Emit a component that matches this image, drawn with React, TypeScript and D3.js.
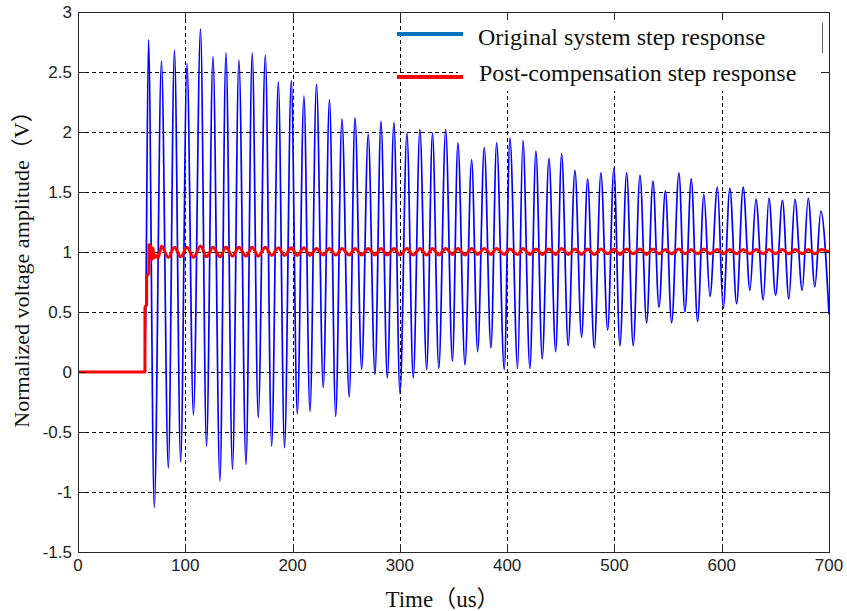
import React from "react";
import * as d3 from "d3";

const xTicks = [0, 100, 200, 300, 400, 500, 600, 700];
const yTicks = [-1.5, -1, -0.5, 0, 0.5, 1, 1.5, 2, 2.5, 3];
const yTickLabels = ["-1.5", "-1", "-0.5", "0", "0.5", "1", "1.5", "2", "2.5", "3"];

const stepTime = 62.4;
const endTime = 700;

// Blue (original system) — peaks and troughs
const bluePeakT = [65.7, 77.8, 89.9, 101.6, 114.2, 125.8, 137.9, 150.0, 162.4, 174.6,
  186.7, 198.8, 210.6, 222.3, 234.4, 246.0, 258.2, 270.5, 282.4, 294.5,
  306.6, 318.7, 330.4, 342.7, 354.1, 366.9, 378.7, 390.2, 402.6, 414.7,
  426.8, 439.0, 450.8, 463.2, 475.0, 487.4, 499.5, 511.4, 523.8, 535.9,
  547.5, 560.1, 571.6, 583.4, 596.0, 607.6, 620.0, 631.9, 644.0, 656.6,
  668.2, 680.6, 692.4];
const bluePeakV = [2.77, 2.59, 2.68, 2.57, 2.86, 2.63, 2.66, 2.60, 2.66, 2.64,
  2.42, 2.43, 2.30, 2.40, 2.27, 2.11, 2.12, 1.98, 2.09, 2.08,
  1.99, 2.02, 1.99, 2.02, 1.91, 1.77, 1.87, 1.91, 1.95, 1.93,
  1.84, 1.78, 1.82, 1.68, 1.61, 1.66, 1.70, 1.66, 1.64, 1.59,
  1.51, 1.66, 1.61, 1.48, 1.54, 1.53, 1.54, 1.44, 1.45, 1.43,
  1.44, 1.45, 1.34];
const blueTroughT = [71.1, 84.2, 95.7, 107.6, 119.8, 132.3, 144.0, 156.6, 168.0, 180.5,
  192.5, 204.4, 216.2, 228.6, 240.2, 252.8, 264.4, 276.8, 288.3, 300.1,
  312.5, 325.0, 336.3, 349.0, 360.7, 372.5, 384.9, 397.3, 409.8, 421.2,
  432.7, 445.2, 456.9, 469.4, 481.2, 493.7, 505.1, 517.5, 530.0, 541.5,
  553.3, 565.7, 577.5, 589.0, 601.4, 613.9, 626.3, 638.7, 650.2, 662.6,
  675.0, 686.8];
const blueTroughV = [-1.13, -0.80, -0.75, -0.36, -0.62, -0.91, -0.81, -0.77, -0.38, -0.62,
  -0.63, -0.35, -0.33, -0.13, -0.37, -0.21, 0.02, -0.02, -0.05, -0.18,
  -0.05, 0.02, 0.03, 0.09, 0.06, 0.17, 0.20, 0.02, 0.03, 0.03,
  0.11, 0.17, 0.22, 0.29, 0.20, 0.35, 0.22, 0.22, 0.41, 0.54,
  0.41, 0.50, 0.42, 0.63, 0.53, 0.57, 0.68, 0.60, 0.64, 0.61,
  0.68, 0.71];
const blueEndV = 0.48;

// Red (post-compensation) — initial rise and settling
const redStartT = [0, 62.4, 62.4, 64.0, 64.0, 66.0, 66.2, 67.1, 68.0, 69.0, 69.9, 70.8, 72.7, 74.6, 76.4];
const redStartV = [0, 0, 0.54, 0.56, 0.80, 0.82, 1.06, 0.95, 1.05, 0.94, 1.03, 0.95, 0.97, 0.95, 1.0];
const redPeakV = [1.05, 1.04, 1.04, 1.05, 1.04, 1.04, 1.04, 1.04, 1.04, 1.035,
  1.035, 1.035, 1.03, 1.03, 1.03, 1.03, 1.03, 1.03, 1.03, 1.03,
  1.03, 1.03, 1.03, 1.03, 1.03, 1.03, 1.03, 1.025, 1.03, 1.025,
  1.025, 1.03, 1.025, 1.025, 1.025, 1.025, 1.025, 1.025, 1.025, 1.02,
  1.025, 1.02, 1.025, 1.02, 1.02, 1.02, 1.02, 1.02, 1.02, 1.02, 1.02, 1.02];
const redTroughV = [0.955, 0.96, 0.955, 0.96, 0.96, 0.965, 0.965, 0.965, 0.97, 0.97,
  0.97, 0.97, 0.975, 0.975, 0.975, 0.975, 0.975, 0.975, 0.975, 0.975,
  0.975, 0.975, 0.98, 0.975, 0.98, 0.98, 0.98, 0.98, 0.98, 0.98,
  0.98, 0.98, 0.98, 0.98, 0.985, 0.98, 0.985, 0.98, 0.985, 0.985,
  0.985, 0.985, 0.985, 0.985, 0.985, 0.985, 0.985, 0.985, 0.985, 0.985, 0.985];
const redEndV = 1.0;

const legendLabels = ["Original system step response", "Post-compensation step response"];
const xTitle = "Time（us）";
const yTitle = "Normalized voltage amplitude（V）";

type Pt = [number, number];

function buildBlue(): Pt[] {
  const pts: Pt[] = [[0, 0], [stepTime, 0]];
  for (let i = 0; i < bluePeakT.length; i++) {
    pts.push([bluePeakT[i], bluePeakV[i]]);
    if (i < blueTroughT.length) pts.push([blueTroughT[i], blueTroughV[i]]);
  }
  pts.push([endTime, blueEndV]);
  return pts;
}

function buildRedOsc(): Pt[] {
  const pts: Pt[] = [[redStartT[redStartT.length - 1], redStartV[redStartV.length - 1]]];
  for (let i = 0; i < redPeakV.length; i++) {
    pts.push([bluePeakT[i + 1], redPeakV[i]]);
    if (i < redTroughV.length) pts.push([blueTroughT[i + 1], redTroughV[i]]);
  }
  pts.push([endTime, redEndV]);
  return pts;
}

export default function App() {
  const W = 847, H = 611;
  const left = 78, right = 829, top = 12, bottom = 552;
  const x = d3.scaleLinear().domain([0, 700]).range([left, right]);
  const y = d3.scaleLinear().domain([-1.5, 3]).range([bottom, top]);

  const smooth = d3.line<Pt>().x(d => x(d[0])).y(d => y(d[1])).curve(d3.curveMonotoneX);
  const straight = d3.line<Pt>().x(d => x(d[0])).y(d => y(d[1]));

  const bluePath = smooth(buildBlue()) || "";
  const redStartPath = straight(redStartT.map((t, i) => [t, redStartV[i]] as Pt)) || "";
  const redOscPath = smooth(buildRedOsc()) || "";

  const axisColor = "#262626";
  const tickLen = 8;
  const sans = "'Liberation Sans', Arial, sans-serif";
  const serif = "'Liberation Serif', 'Times New Roman', 'Noto Sans CJK SC', serif";

  return (
    <svg width={W} height={H} style={{ position: "fixed", left: 0, top: 0, background: "#fff" }}>
      <rect x={0} y={0} width={W} height={H} fill="#fff" />
      <defs>
        <clipPath id="plot">
          <rect x={left} y={top} width={right - left} height={bottom - top} />
        </clipPath>
      </defs>
      {/* grid */}
      <g stroke="#000" strokeWidth={1} strokeDasharray="4,3" fill="none">
        {xTicks.slice(1, -1).map(t => (
          <line key={"gx" + t} x1={Math.round(x(t)) + 0.5} x2={Math.round(x(t)) + 0.5} y1={top} y2={bottom} />
        ))}
        {yTicks.slice(1, -1).map(t => (
          <line key={"gy" + t} x1={left} x2={right} y1={Math.round(y(t)) + 0.5} y2={Math.round(y(t)) + 0.5} />
        ))}
      </g>
      {/* data */}
      <g clipPath="url(#plot)" fill="none">
        <path d={bluePath} stroke="#0000ff" strokeWidth={1.7} strokeLinejoin="round" />
        <path d={redStartPath} stroke="#ff0000" strokeWidth={3} strokeLinejoin="round" />
        <path d={redOscPath} stroke="#ff0000" strokeWidth={3} strokeLinejoin="round" />
      </g>
      {/* legend */}
      <rect x={458} y={13} width={363} height={78} fill="#fff" />
      <line x1={822.5} x2={822.5} y1={23} y2={53} stroke="#666" strokeWidth={1} />
      <line x1={397} x2={463} y1={34} y2={34} stroke="#0070c0" strokeWidth={4} />
      <line x1={397} x2={463} y1={77} y2={77} stroke="#ff0000" strokeWidth={4} />
      <text x={478} y={45} fontFamily={serif} fontSize={24} fill="#111">{legendLabels[0]}</text>
      <text x={479} y={81} fontFamily={serif} fontSize={24} fill="#111">{legendLabels[1]}</text>
      {/* axes box */}
      <rect x={left + 0.5} y={top + 0.5} width={right - left} height={bottom - top} fill="none" stroke={axisColor} strokeWidth={1} />
      <g stroke={axisColor} strokeWidth={1}>
        {xTicks.map(t => (
          <g key={"tx" + t}>
            <line x1={Math.round(x(t)) + 0.5} x2={Math.round(x(t)) + 0.5} y1={bottom} y2={bottom - tickLen} />
            <line x1={Math.round(x(t)) + 0.5} x2={Math.round(x(t)) + 0.5} y1={top} y2={top + tickLen} />
          </g>
        ))}
        {yTicks.map(t => (
          <g key={"ty" + t}>
            <line x1={left} x2={left + tickLen} y1={Math.round(y(t)) + 0.5} y2={Math.round(y(t)) + 0.5} />
            <line x1={right} x2={right - tickLen} y1={Math.round(y(t)) + 0.5} y2={Math.round(y(t)) + 0.5} />
          </g>
        ))}
      </g>
      {/* tick labels */}
      <g fontFamily={sans} fontSize={17} fill="#222">
        {xTicks.map(t => (
          <text key={"lx" + t} x={x(t)} y={571} textAnchor="middle">{String(t)}</text>
        ))}
        {yTicks.map((t, i) => (
          <text key={"ly" + t} x={72} y={y(t) + 6} textAnchor="end">{yTickLabels[i]}</text>
        ))}
      </g>
      {/* axis titles */}
      <text x={(left + right) / 2 - 11} y={607} textAnchor="middle" fontFamily={serif} fontSize={23} fill="#111">{xTitle}</text>
      <text transform={`translate(29,${(top + bottom) / 2 - 18}) rotate(-90)`} textAnchor="middle" fontFamily={serif} fontSize={22} fill="#111">{yTitle}</text>
    </svg>
  );
}
